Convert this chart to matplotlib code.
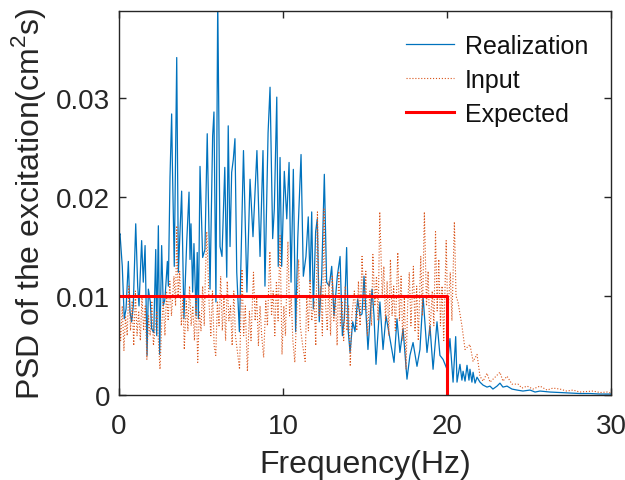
import numpy as np
import matplotlib
matplotlib.use('Agg')
import matplotlib.pyplot as plt

plt.rcParams['font.family'] = ['Liberation Sans', 'DejaVu Sans']
plt.rcParams['mathtext.fontset'] = 'custom'
plt.rcParams['mathtext.rm'] = 'Liberation Sans'

# realization PSD (Hz, 1e-3 cm^2 s)
real_f = [0.0, 0.06, 0.16, 0.20, 0.32, 0.43, 0.57, 0.67, 0.77, 0.87, 1.02, 1.14, 1.22, 1.38, 1.48,
          1.59, 1.71, 1.79, 1.91, 1.99, 2.12, 2.24, 2.30, 2.40, 2.48, 2.60, 2.70, 2.80, 2.95, 3.01,
          3.11, 3.21, 3.25, 3.37, 3.52, 3.62, 3.82, 3.96, 4.13, 4.27, 4.33, 4.39, 4.49, 4.57, 4.70,
          4.77, 4.84, 4.94, 5.10, 5.24, 5.38, 5.55, 5.71, 5.79, 5.91, 6.02, 6.16, 6.28, 6.45, 6.57,
          6.66, 6.77, 6.87, 6.97, 7.07, 7.18, 7.34, 7.59, 7.80, 7.99, 8.17, 8.41, 8.60, 8.78, 8.90,
          9.09, 9.21, 9.37, 9.47, 9.62, 9.71, 9.82, 9.92, 10.08, 10.23, 10.37, 10.49, 10.63, 10.77,
          10.90, 11.10, 11.24, 11.40, 11.54, 11.65, 11.75, 11.85, 11.99, 12.09, 12.21, 12.36, 12.52,
          12.66, 12.82, 12.97, 13.11, 13.31, 13.48, 13.62, 13.74, 13.88, 13.98, 14.09, 14.25, 14.39,
          14.55, 14.70, 14.82, 14.94, 15.18, 15.43, 15.55, 15.67, 15.91, 16.10, 16.28, 16.52, 16.77,
          16.95, 17.13, 17.32, 17.56, 17.74, 17.93, 18.17, 18.35, 18.54, 18.78, 18.96, 19.15, 19.39,
          19.57, 19.76, 20.00, 20.18, 20.37, 20.53, 20.61, 20.79, 20.91, 20.98, 21.10, 21.22, 21.34,
          21.40, 21.52, 21.59, 21.71, 21.83, 22.01, 22.20, 22.44, 22.62, 22.80, 23.05, 23.23, 23.41,
          23.66, 23.96, 24.27, 24.63, 25.06, 25.37, 25.67, 26.28, 26.89, 27.50, 28.11, 28.72, 29.33, 30.0]
real_psd = [16.0, 16.3, 14.0, 13.0, 7.7, 8.7, 13.5, 8.4, 7.4, 9.0, 17.3, 11.0, 9.0, 15.6, 11.4,
            15.1, 4.0, 10.7, 9.4, 6.7, 6.3, 14.7, 6.0, 17.1, 4.1, 15.1, 9.0, 9.7, 13.5, 11.0,
            22.0, 28.4, 23.8, 13.0, 34.1, 12.4, 20.6, 7.7, 15.5, 20.5, 13.7, 17.3, 10.4, 15.3, 8.0,
            14.4, 7.7, 23.1, 13.9, 14.7, 26.4, 10.7, 26.2, 28.6, 9.4, 40.0, 15.0, 14.0, 23.0, 11.9,
            27.2, 15.0, 22.5, 23.8, 25.9, 12.4, 6.4, 24.7, 10.4, 21.8, 16.0, 24.7, 14.0, 24.7, 11.0,
            26.5, 31.1, 15.8, 18.8, 30.1, 13.0, 24.0, 13.0, 22.6, 17.8, 23.5, 11.4, 22.8, 6.4,
            15.8, 24.3, 12.0, 14.0, 18.0, 11.4, 18.5, 8.7, 16.5, 17.8, 7.4, 12.0, 22.3,
            11.4, 11.0, 13.0, 8.0, 12.0, 14.0, 6.0, 7.7, 14.9, 6.4, 4.3, 7.4, 6.4,
            9.7, 8.0, 8.2, 12.0, 4.6, 10.7, 8.0, 3.1, 9.4, 4.6, 8.0, 5.7, 3.3,
            7.7, 4.3, 6.7, 1.6, 4.0, 5.3, 2.9, 4.6, 10.0, 4.3, 7.0, 2.6, 7.4,
            4.0, 3.6, 2.6, 5.7, 1.3, 5.9, 1.3, 3.1, 1.5, 2.4, 1.4, 3.0, 1.5,
            2.6, 1.3, 2.3, 1.2, 1.8, 1.3, 1.0, 0.8, 0.9, 0.6, 0.9, 1.2, 0.8,
            0.9, 0.6, 0.5, 0.4, 0.5, 0.3, 0.4, 0.3, 0.25, 0.2, 0.15, 0.15, 0.1, 0.1]

# input PSD (Hz, 1e-3 cm^2 s)
inp_f = [0.0, 0.1, 0.2, 0.3, 0.4, 0.5, 0.6, 0.7, 0.8, 0.9, 1.0, 1.1, 1.2, 1.3, 1.4, 1.5, 1.6, 1.7,
         1.8, 1.9, 2.0, 2.1, 2.3, 2.5, 2.6, 2.7, 2.8, 2.9, 3.0, 3.1, 3.2, 3.35, 3.45, 3.52, 3.6, 3.7,
         3.8, 3.9, 3.98, 4.1, 4.2, 4.3, 4.4, 4.5, 4.6, 4.7, 4.8, 4.9, 5.0, 5.1, 5.2, 5.25, 5.35,
         5.5, 5.6, 5.7, 5.8, 5.9, 6.0, 6.1, 6.2, 6.3, 6.4, 6.5, 6.6, 6.7, 6.8, 6.9, 7.0, 7.1,
         7.35, 7.5, 7.6, 7.7, 7.83, 7.95, 8.05, 8.2, 8.3, 8.4, 8.5, 8.6, 8.7, 8.82, 8.95, 9.05,
         9.2, 9.3, 9.4, 9.5, 9.6, 9.7, 9.82, 9.94, 10.05, 10.15, 10.3, 10.4, 10.5, 10.6, 10.72,
         10.85, 10.95, 11.05, 11.2, 11.35, 11.45, 11.55, 11.65, 11.75, 11.9, 12.0, 12.1, 12.2,
         12.3, 12.4, 12.5, 12.6, 12.7, 12.8, 12.9, 13.0, 13.1, 13.2, 13.3, 13.4, 13.5, 13.6, 13.7,
         13.8, 13.9, 14.0, 14.1, 14.2, 14.35, 14.5, 14.6, 14.7, 14.82, 14.95, 15.05, 15.15, 15.3,
         15.4, 15.48, 15.6, 15.7, 15.8, 15.9, 16.05, 16.15, 16.25, 16.35, 16.45, 16.55, 16.65,
         16.75, 16.85, 17.0, 17.1, 17.2, 17.3, 17.4, 17.5, 17.6, 17.7, 17.8, 17.95, 18.05, 18.15,
         18.25, 18.4, 18.5, 18.62, 18.75, 18.85, 18.95, 19.1, 19.2, 19.3, 19.4, 19.5, 19.6, 19.7,
         19.8, 19.95, 20.05, 20.2, 20.3, 20.45, 20.55, 20.67, 20.91, 21.1, 21.4, 21.59, 21.83,
         22.01, 22.2, 22.44, 22.62, 22.93, 23.23, 23.41, 23.66, 23.96, 24.33, 24.57, 24.88, 25.24,
         25.67, 26.1, 26.46, 26.89, 27.3, 27.68, 28.1, 28.9, 29.33, 29.76, 30.0]
inp_psd = [8.5, 5.5, 9.0, 4.5, 8.0, 6.0, 11.0, 6.5, 9.5, 5.0, 10.5, 6.0, 8.5, 5.5, 10.0, 6.5, 9.0, 3.6,
           8.0, 6.0, 9.5, 5.0, 8.5, 2.6, 7.0, 9.5, 6.0, 10.5, 7.5, 11.5, 8.0, 12.0, 9.0, 17.1, 10.0, 12.5,
           7.0, 10.0, 4.6, 9.5, 6.5, 11.0, 7.0, 9.0, 5.5, 10.0, 3.3, 8.5, 6.5, 11.0, 7.0, 11.0, 16.5,
           9.0, 6.0, 10.5, 5.0, 4.0, 9.5, 7.0, 12.0, 6.5, 10.0, 5.5, 11.5, 7.5, 9.0, 5.0, 10.5, 6.0,
           2.6, 12.7, 6.0, 9.0, 2.4, 8.5, 5.5, 12.4, 7.5, 10.0, 5.0, 9.0, 6.0, 3.8, 9.5, 7.0,
           14.5, 8.0, 10.5, 6.0, 11.5, 7.5, 16.1, 4.1, 9.0, 6.0, 15.5, 8.0, 10.0, 5.5, 3.3,
           9.0, 13.7, 7.0, 5.0, 3.4, 10.0, 6.5, 11.7, 7.5, 9.5, 5.0, 18.5, 8.0,
           11.0, 6.0, 18.8, 9.0, 6.5, 11.5, 6.0, 12.0, 7.5, 10.0, 5.0, 12.5, 7.0, 9.5, 5.5,
           11.0, 6.5, 9.0, 2.9, 8.0, 10.5, 6.5, 11.5, 7.0, 14.0, 8.5, 12.5, 6.0, 10.5,
           7.0, 14.2, 9.0, 12.0, 7.5, 18.5, 10.0, 13.0, 7.5, 11.5, 6.0, 13.7, 8.0,
           11.0, 6.5, 14.4, 7.5, 12.0, 5.5, 10.0, 2.6, 9.0, 12.4, 7.0, 13.0, 6.5, 11.0,
           5.5, 14.0, 8.0, 18.5, 9.0, 12.5, 6.0, 10.5, 7.0, 16.5, 8.5, 13.7, 7.0, 11.0,
           5.5, 15.6, 8.0, 12.4, 7.5, 17.5, 10.0, 9.4, 7.0, 4.6, 5.1, 3.4, 4.1,
           1.9, 1.4, 2.2, 1.3, 1.8, 2.3, 1.4, 1.9, 1.1, 1.1, 0.7, 0.9, 0.6,
           0.9, 0.5, 0.7, 0.6, 0.4, 0.5, 0.3, 0.4, 0.25, 0.3, 0.2]

# target (expected) PSD
exp_f = [0, 20, 20]
exp_psd = [0.01, 0.01, 0.0]

yticks = [0, 0.01, 0.02, 0.03]
ytick_labels = ['0', '0.01', '0.02', '0.03']
xticks = [0, 10, 20, 30]

real_psd = np.array(real_psd) * 1e-3
inp_psd = np.array(inp_psd) * 1e-3

fig = plt.figure(figsize=(6.25, 4.81), dpi=100)
ax = fig.add_axes([0.1904, 0.1767, 0.7872, 0.7983])

ax.plot(real_f, real_psd, color='#0072BD', lw=0.9, label='Realization')
ax.plot(inp_f, inp_psd, color='#D95319', lw=0.8, ls=':', label='Input')
ax.plot(exp_f, exp_psd, color='#FF0000', lw=2.2, label='Expected')

ax.set_xlim(0, 30)
ax.set_ylim(0, 0.0388)
ax.set_xticks(xticks)
ax.set_xticklabels([str(t) for t in xticks])
ax.set_yticks(yticks)
ax.set_yticklabels(ytick_labels)
ax.tick_params(direction='in', length=5, width=1, top=True, right=True,
               labelsize=20, colors='#262626')
ax.tick_params(axis='y', pad=6.5)
ax.tick_params(axis='x', pad=13)
for s in ax.spines.values():
    s.set_color('#262626')
    s.set_linewidth(1)

ax.set_xlabel('Frequency(Hz)', fontsize=23, color='#262626', labelpad=7)
ax.set_ylabel('PSD of the excitation(cm$^2$s)', fontsize=23, color='#262626', labelpad=6)

leg = ax.legend(loc='upper right', bbox_to_anchor=(1.0, 1.0), frameon=False,
                fontsize=18, handlelength=1.92, labelspacing=0.4, handletextpad=0.44)
for t in leg.get_texts():
    t.set_color('#111111')

fig.savefig('out.png', dpi=100)
